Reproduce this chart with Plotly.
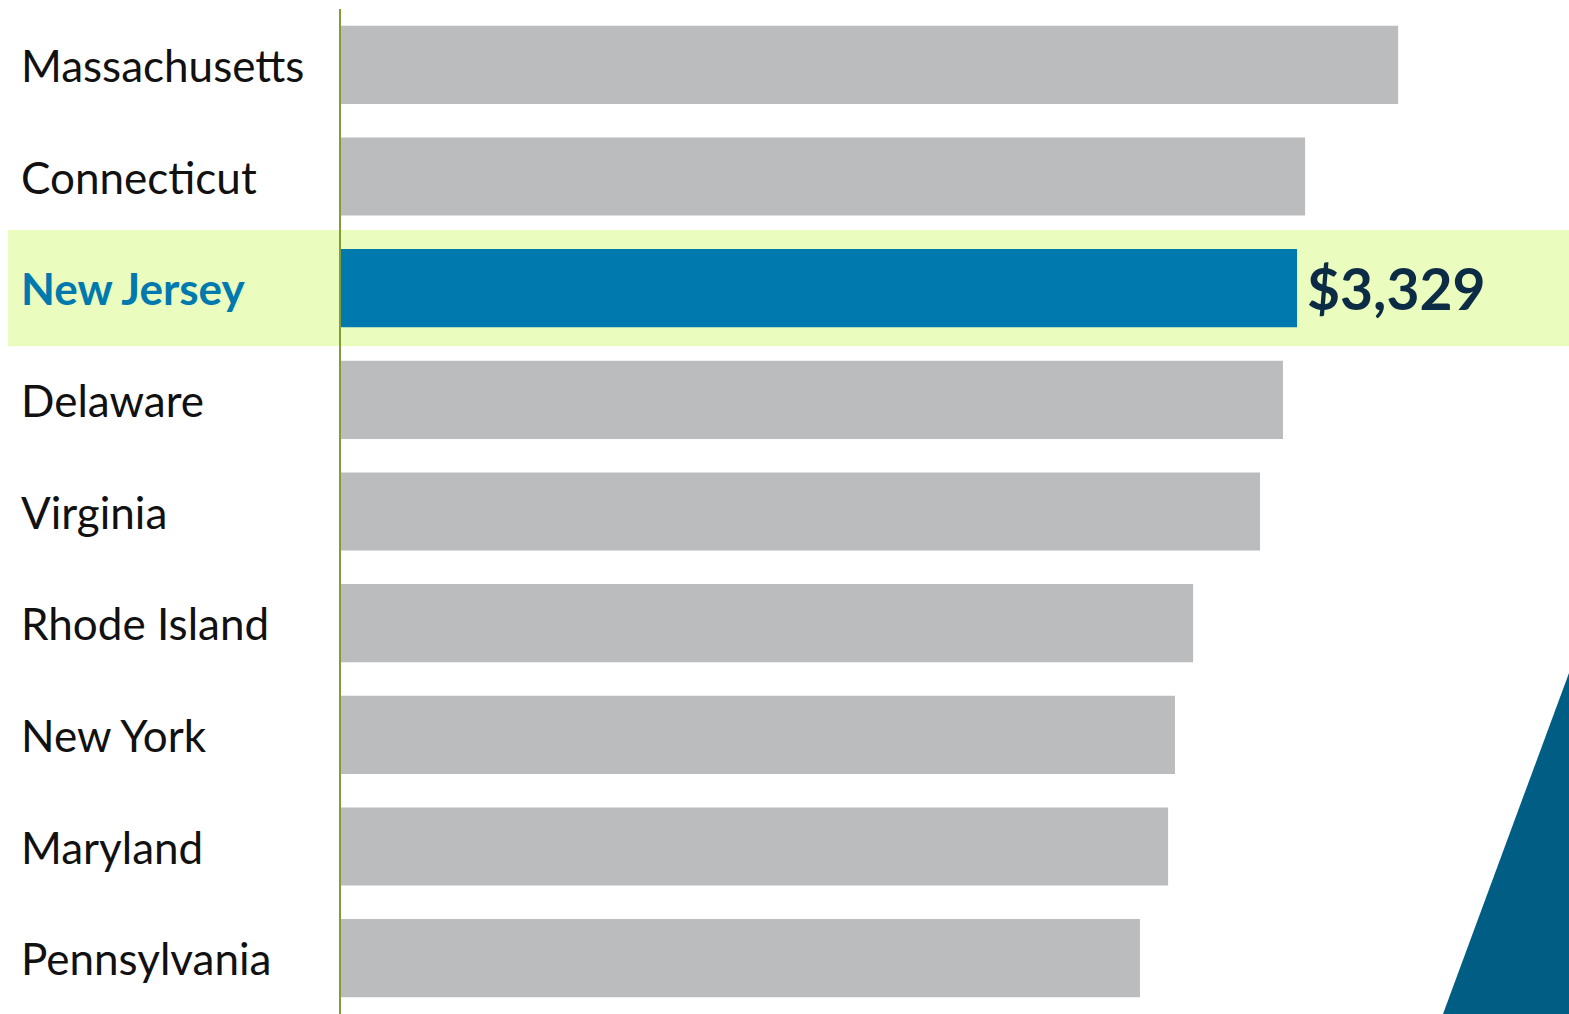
import plotly.graph_objects as go

states = ["Massachusetts", "Connecticut", "New Jersey", "Delaware", "Virginia",
          "Rhode Island", "New York", "Maryland", "Pennsylvania"]
values = [3681, 3357, 3329, 3280, 3200, 2967, 2904, 2880, 2782]
highlight = "New Jersey"
highlight_label = "$3,329"

W, H = 1569, 1014
L, R, T, B = 341, 0, 9, 0
pw = W - L - R
ph = H - T - B

gray = "#BBBCBE"
blue = "#0079AE"
colors = [blue if s == highlight else gray for s in states]

fig = go.Figure()
fig.add_trace(go.Bar(
    x=values, y=states, orientation="h",
    marker=dict(color=colors, line=dict(width=0)),
    width=0.70, hoverinfo="skip", showlegend=False,
))

font = "Lato, 'Noto Sans', sans-serif"
annotations = []
for s in states:
    hl = s == highlight
    annotations.append(dict(
        x=(19 - L) / pw, xref="paper", y=s, yref="y",
        xanchor="left", yanchor="middle", showarrow=False,
        text=f"<b>{s}</b>" if hl else s,
        font=dict(family=font, size=44, color=blue if hl else "#111111"),
    ))
hi = states.index(highlight)
annotations.append(dict(
    x=values[hi], xref="x", y=highlight, yref="y",
    xanchor="left", yanchor="middle", showarrow=False, xshift=8,
    text=f"<b>{highlight_label}</b>",
    font=dict(family=font, size=57, color="#0B2C44"),
))

shapes = [
    dict(type="rect", xref="paper", yref="y",
         x0=(8 - L) / pw, x1=1, y0=hi - 0.52, y1=hi + 0.52,
         fillcolor="#EBFCBF", line=dict(width=0), layer="below"),
    dict(type="path", xref="paper", yref="paper",
         path=f"M 1 {(H - 673) / ph} L {(1443 - L) / pw} 0 L 1 0 Z",
         fillcolor="#005E85", line=dict(width=0), layer="above"),
]

fig.update_layout(
    width=W, height=H,
    margin=dict(l=L, r=R, t=T, b=B, pad=0),
    paper_bgcolor="white", plot_bgcolor="rgba(0,0,0,0)",
    bargap=0.3,
    xaxis=dict(range=[0, 4276], visible=False, fixedrange=True),
    yaxis=dict(range=[len(states) - 0.5, -0.5], showticklabels=False,
               showgrid=False, zeroline=False, showline=True,
               linecolor="#7E9F35", linewidth=2, ticks="", fixedrange=True),
    annotations=annotations,
    shapes=shapes,
)

fig.write_html(
    "out.html",
    config={"displayModeBar": False},
    post_script="document.body.style.margin='0';document.body.style.overflow='hidden';",
)
